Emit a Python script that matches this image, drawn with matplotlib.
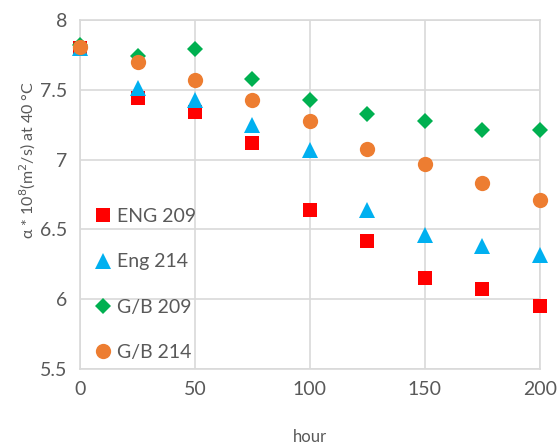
import matplotlib.pyplot as plt

# thermal diffusivity vs time, four samples
hours = [0, 25, 50, 75, 100, 125, 150, 175, 200]
eng_209 = [7.80, 7.44, 7.34, 7.12, 6.64, 6.42, 6.15, 6.07, 5.95]
eng_214 = [7.80, 7.51, 7.43, 7.25, 7.07, 6.64, 6.46, 6.38, 6.32]
gb_209 = [7.82, 7.74, 7.79, 7.58, 7.43, 7.33, 7.28, 7.21, 7.21]
gb_214 = [7.81, 7.70, 7.57, 7.43, 7.28, 7.08, 6.97, 6.83, 6.71]

x_ticks = [0, 50, 100, 150, 200]
y_ticks = [5.5, 6, 6.5, 7, 7.5, 8]
y_tick_labels = ["5.5", "6", "6.5", "7", "7.5", "8"]

plt.rcParams["font.family"] = ["Lato", "DejaVu Sans"]
TEXT = "#595959"
GRID = "#d9d9d9"

fig = plt.figure(figsize=(5.6, 4.47), dpi=100)
ax = fig.add_axes([0.143, 0.1745, 0.821, 0.7805])

series = [
    (eng_209, "s", "#ff0000", 10, "ENG 209"),
    (eng_214, "^", "#00b0f0", 11, "Eng 214"),
    (gb_209, "D", "#00b050", 8, "G/B 209"),
    (gb_214, "o", "#ed7d31", 11, "G/B 214"),
]
for vals, mk, col, ms, lab in series:
    ax.plot(hours, vals, linestyle="none", marker=mk, color=col,
            markersize=ms, markeredgewidth=0, label=lab, clip_on=False, zorder=3)

ax.set_xlim(0, 200)
ax.set_ylim(5.5, 8)
ax.set_xticks(x_ticks)
ax.set_yticks(y_ticks)
ax.set_yticklabels(y_tick_labels)
ax.tick_params(length=0, labelsize=14, labelcolor=TEXT, pad=9)
ax.grid(True, color=GRID, linewidth=1.2, zorder=0)
for sp in ax.spines.values():
    sp.set_color(GRID)
    sp.set_linewidth(1.2)

ax.set_xlabel("hour", fontsize=12, color=TEXT, labelpad=22)
fig.text(0.05, 1 - 160 / 447, "α * 10$^{8}$(m$^{2}$/s) at 40 °C", rotation=90,
         ha="center", va="center", fontsize=11.5, color=TEXT)

leg = ax.legend(loc="lower left", bbox_to_anchor=(0.008, 0.001), frameon=False,
                fontsize=14, labelspacing=1.45, handletextpad=0.1,
                handlelength=1.2, borderaxespad=0)
for t in leg.get_texts():
    t.set_color(TEXT)

fig.savefig("out.png", dpi=100)
